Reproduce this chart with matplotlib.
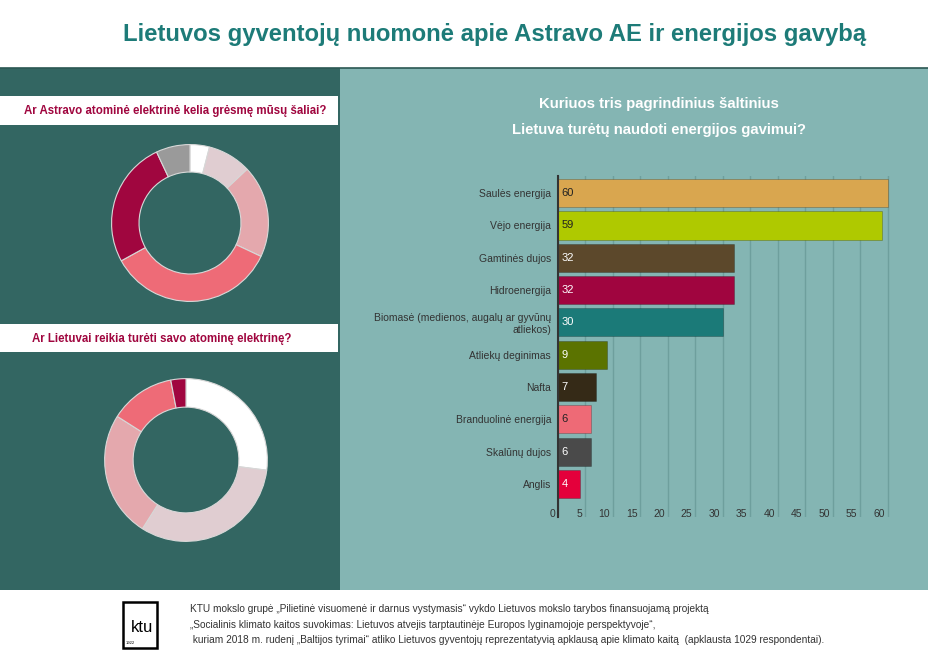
import matplotlib
matplotlib.use("Agg")
import matplotlib.pyplot as plt
import matplotlib.patches as mpatches
import matplotlib.transforms as mtransforms
import numpy as np

plt.rcParams['font.family'] = ['Liberation Sans', 'DejaVu Sans']

# ---- data ----
TITLE = "Lietuvos gyventojų nuomonė apie Astravo AE ir energijos gavybą"

Q1 = "Ar Astravo atominė elektrinė kelia grėsmę mūsų šaliai?"
Q1_VALUES = [4, 9, 19, 35, 26, 7]
Q1_COLORS = ["#ffffff", "#e0cdd1", "#e4a8ad", "#ee6b77", "#a0063f", "#9a9a9a"]

Q2 = "Ar Lietuvai reikia turėti savo atominę elektrinę?"
Q2_VALUES = [27, 32, 25, 13, 3]
Q2_COLORS = ["#ffffff", "#e0cdd1", "#e4a8ad", "#ee6b77", "#a0063f"]

BAR_TITLE = "Kuriuos tris pagrindinius šaltinius\nLietuva turėtų naudoti energijos gavimui?"
SOURCES = ["Saulės energija", "Vėjo energija", "Gamtinės dujos", "Hidroenergija",
           "Biomasė (medienos, augalų ar gyvūnų\natliekos)", "Atliekų deginimas",
           "Nafta", "Branduolinė energija", "Skalūnų dujos", "Anglis"]
SHARES = [60, 59, 32, 32, 30, 9, 7, 6, 6, 4]
BAR_COLORS = ["#d9a64f", "#afc900", "#5c482b", "#a0053f", "#1b7a78",
              "#5b7300", "#352a17", "#ee6a76", "#4a4a4a", "#e4003b"]
LABEL_COLORS = ["#222222", "#222222", "white", "white", "white",
                "white", "white", "#222222", "white", "white"]

FOOTER = [
    "KTU mokslo grupė „Pilietinė visuomenė ir darnus vystymasis“ vykdo Lietuvos mokslo tarybos finansuojamą projektą",
    "„Socialinis klimato kaitos suvokimas: Lietuvos atvejis tarptautinėje Europos lyginamojoje perspektyvoje“,",
    " kuriam 2018 m. rudenį „Baltijos tyrimai“ atliko Lietuvos gyventojų reprezentatyvią apklausą apie klimato kaitą  (apklausta 1029 respondentai).",
]

W, H = 929, 654
fig = plt.figure(figsize=(W / 100, H / 100), dpi=100)
fig.patch.set_facecolor("white")


def px_axes(x0, y0, x1, y1, **kw):
    return fig.add_axes([x0 / W, 1 - y1 / H, (x1 - x0) / W, (y1 - y0) / H], **kw)


# background / layout layer in pixel coordinates
bg = px_axes(0, 0, W, H)
bg.set_xlim(0, W)
bg.set_ylim(H, 0)
bg.axis("off")
bg.add_patch(mpatches.Rectangle((0, 68), 340, 522, facecolor="#336662", edgecolor="none"))
bg.add_patch(mpatches.Rectangle((340, 68), W - 340, 522, facecolor="#84b5b3", edgecolor="none"))
bg.plot([0, W], [68, 68], color="#2b5753", lw=1.2)
bg.add_patch(mpatches.Rectangle((0, 96), 338, 29, facecolor="white", edgecolor="none"))
bg.add_patch(mpatches.Rectangle((0, 324), 338, 28, facecolor="white", edgecolor="none"))

bg.text(495, 35, TITLE, ha="center", va="center", fontsize=17.2, color="#1d7b78",
        fontweight="bold")
bg.text(175, 111, Q1, ha="center", va="center", fontsize=8.3, color="#a0063f",
        fontweight="bold")
bg.text(162, 339, Q2, ha="center", va="center", fontsize=8.3, color="#a0063f",
        fontweight="bold")
bg.text(659, 117, BAR_TITLE, ha="center", va="center", fontsize=10.7, color="white",
        fontweight="bold", linespacing=2.1)

# footer + logo
bg.add_patch(mpatches.Rectangle((123, 602), 34, 46, facecolor="white",
                                edgecolor="black", lw=1.8))
bg.text(142, 627, "ktu", ha="center", va="center", fontsize=12, color="black")
bg.text(126, 643, "1922", ha="left", va="center", fontsize=3, color="black")
for i, line in enumerate(FOOTER):
    bg.text(190, 609 + i * 15.5, line, ha="left", va="center", fontsize=7.3,
            color="#333333")


# donuts
def donut(cx, cy, r, values, colors):
    ax = px_axes(cx - r, cy - r, cx + r, cy + r)
    ax.pie(values, colors=colors, startangle=90, counterclock=False, radius=1,
           wedgeprops=dict(width=0.35, edgecolor="#d8d8d8", linewidth=0.8))
    ax.set_xlim(-1.02, 1.02)
    ax.set_ylim(-1.02, 1.02)
    ax.set_aspect("equal")
    ax.axis("off")


donut(190, 223, 80, Q1_VALUES, Q1_COLORS)
donut(186, 460, 83, Q2_VALUES, Q2_COLORS)

# bar chart
ax = px_axes(558, 176, 899, 517)
ax.set_facecolor("none")
y = np.arange(len(SOURCES))
ax.barh(y, SHARES, height=0.87, color=BAR_COLORS, edgecolor=(0, 0, 0, 0.25),
        linewidth=0.6, zorder=3)
for yi, v, c in zip(y, SHARES, LABEL_COLORS):
    ax.text(0.7, yi, str(v), ha="left", va="center", fontsize=8, color=c, zorder=4)
ax.set_xlim(0, 62)
ax.set_ylim(len(SOURCES) - 1 + 1.02, -0.53)
ax.set_xticks(np.arange(0, 61, 5))
ax.set_yticks(y)
ax.set_yticklabels(SOURCES, fontsize=7.5, color="#333333", ha="right",
                   multialignment="right")
ax.tick_params(axis="y", length=0, pad=5)
ax.tick_params(axis="x", length=0, pad=-6, labelsize=7.5, labelcolor="#333333")
shift = mtransforms.ScaledTranslation(-3 / 100, 0, fig.dpi_scale_trans)
for lbl in ax.get_xticklabels():
    lbl.set_ha("right")
    lbl.set_transform(lbl.get_transform() + shift)
ax.grid(axis="x", color="#6e9f9d", lw=1, zorder=0)
for sp in ("top", "right", "bottom"):
    ax.spines[sp].set_visible(False)
ax.spines["left"].set_color("#333333")
ax.spines["left"].set_linewidth(1.5)
ax.spines["left"].set_zorder(5)

fig.savefig("out.png", dpi=100, facecolor="white")
